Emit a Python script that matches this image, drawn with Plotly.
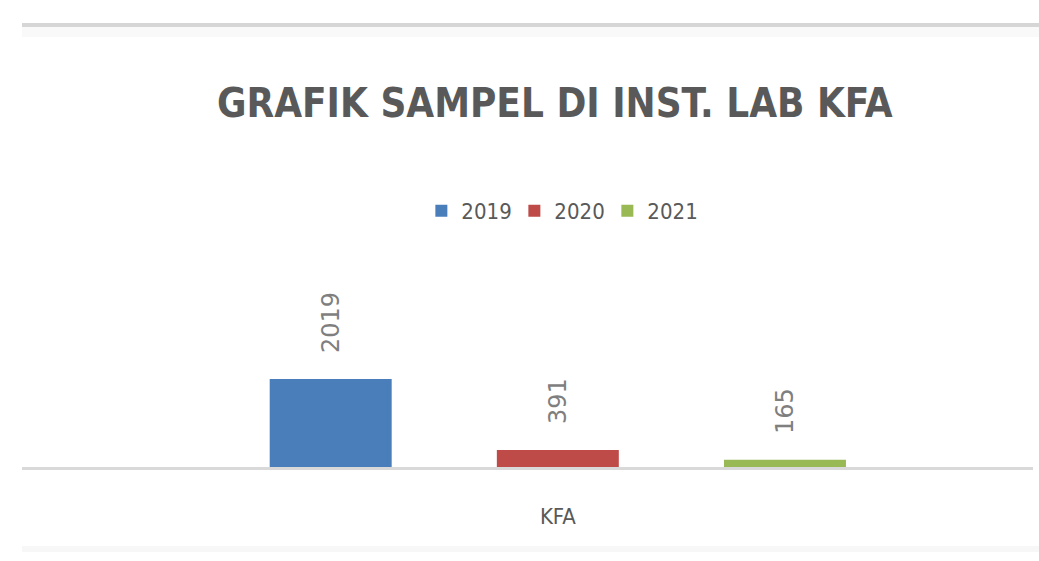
import plotly.graph_objects as go

categories = ["KFA"]
years = ["2019", "2020", "2021"]
values = [2019, 391, 165]
colors = ["#4a7ebb", "#be4b48", "#98b954"]

NARROW = "DejaVu Sans Condensed, Liberation Sans Narrow, Arial Narrow, sans-serif"

fig = go.Figure()
for yr, v, c in zip(years, values, colors):
    fig.add_trace(go.Bar(
        name=yr, x=categories, y=[v], marker=dict(color=c, line=dict(width=0)),
        text=["\u00a0\u00a0\u00a0" + str(v)], textposition="outside", textangle=-90,
        textfont=dict(family="DejaVu Sans, Verdana, sans-serif", size=24, color="#7f7f7f"),
        cliponaxis=False,
    ))

fig.update_layout(
    width=1039, height=561,
    paper_bgcolor="white", plot_bgcolor="white",
    margin=dict(l=22, r=6, t=249, b=94),
    barmode="group", bargap=0.326, bargroupgap=0.463,
    title=dict(text="<b>GRAFIK SAMPEL DI INST. LAB KFA</b>", x=0.534, xanchor="center",
               y=0.816, yanchor="middle",
               font=dict(family=NARROW, size=40, color="#595959")),
    legend=dict(orientation="h", x=0.533, xanchor="center", y=1.175, yanchor="middle",
                font=dict(family=NARROW, size=22, color="#595959"),
                itemwidth=30, entrywidth=48, entrywidthmode="pixels", traceorder="normal"),
    showlegend=True,
)
fig.update_xaxes(range=[-0.530, 0.470], showline=True, linecolor="#d9d9d9", linewidth=3,
                 showgrid=False, zeroline=False, ticks="", ticklabelstandoff=28,
                 tickfont=dict(family=NARROW, size=22, color="#595959"))
fig.update_yaxes(range=[0, 5000], visible=False, showgrid=False, zeroline=False)

# frame decorations of the original screenshot
fig.add_shape(type="rect", xref="paper", yref="paper", x0=0, x1=1.0059, y0=(561-94-37)/218, y1=(561-94-27)/218,
              fillcolor="#f9f9f9", line=dict(width=0), layer="below")
fig.add_shape(type="rect", xref="paper", yref="paper", x0=0, x1=1.0059, y0=(561-94-27)/218, y1=(561-94-23)/218,
              fillcolor="#d6d6d6", line=dict(width=0))
fig.add_shape(type="rect", xref="paper", yref="paper", x0=0, x1=1.0059, y0=-(552-467)/218, y1=-(546-467)/218,
              fillcolor="#f7f7f7", line=dict(width=0), layer="below")

fig.write_html("out.html", config={"displayModeBar": False},
               post_script="document.body.style.margin='0';document.body.style.overflow='hidden';")
